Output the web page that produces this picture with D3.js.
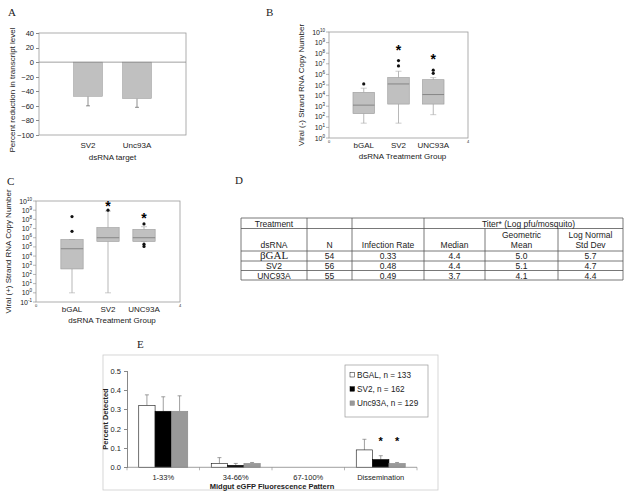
<!DOCTYPE html>
<html lang="en">
<head>
<meta charset="UTF-8">
<title>dsRNA figure</title>
<script src="https://d3js.org/d3.v7.min.js"></script>
<style>
  body, html { margin: 0; background: #fff; }
  svg text { font-family: "Liberation Sans", Arial, sans-serif; fill: #222; }
  .plabel { font-family: "Liberation Serif", "Times New Roman", serif; font-size: 11px; }
  .axis path, .axis line { stroke: #888; shape-rendering: crispEdges; }
  .axis text { font-size: 7.5px; fill: #222; }
</style>
</head>
<body>
<svg id="fig" width="631" height="498"></svg>
<script>
// panel A: percent reduction
var aTargets = ["SV2", "Unc93A"];
var aMeans = [-47, -50];
var aErrLow = [-60, -62];
var aTicks = [40, 20, 0, -20, -40, -60, -80, -100];

// panels B and C: log10 of copy number, box stats per group
var groups = ["bGAL", "SV2", "UNC93A"];
var bLow = [1.4, 1.4, 2.2];
var bQ1 = [2.3, 3.2, 3.2];
var bMed = [3.1, 5.1, 4.1];
var bQ3 = [4.3, 5.7, 5.5];
var bHigh = [4.7, 6.3, 5.7];
var bOut = [[5.1], [6.8, 7.3], [6.1, 6.4]];
var bStar = [null, 8.4, 7.5];
var bExp = [0, 1, 2, 3, 4, 5, 6, 7, 8, 9, 10];

var cLow = [0, 0, 5.6];
var cQ1 = [2.6, 5.6, 5.6];
var cMed = [4.8, 6.0, 6.0];
var cQ3 = [5.8, 7.1, 6.9];
var cHigh = [5.8, 8.9, 7.2];
var cOut = [[6.7, 8.3], [9.0], [7.5, 5.3, 5.05]];
var cStar = [null, 9.5, 8.2];
var cExp = [-1, 0, 1, 2, 3, 4, 5, 6, 7, 8, 9, 10];

// panel D: table
var dsrna = ["\u03B2GAL", "SV2", "UNC93A"];
var nVals = ["54", "56", "55"];
var infRate = ["0.33", "0.48", "0.49"];
var medians = ["4.4", "4.4", "3.7"];
var geoMeans = ["5.0", "5.1", "4.1"];
var logSd = ["5.7", "4.7", "4.4"];

// panel E: midgut eGFP pattern
var eCats = ["1-33%", "34-66%", "67-100%", "Dissemination"];
var eSeries = ["BGAL, n = 133", "SV2, n = 162", "Unc93A, n = 129"];
var eBgal = [0.32, 0.02, 0, 0.09];
var eSv2 = [0.29, 0.01, 0, 0.04];
var eUnc = [0.29, 0.02, 0, 0.02];
var eBgalErr = [0.375, 0.05, 0, 0.145];
var eSv2Err = [0.365, 0.02, 0, 0.06];
var eUncErr = [0.37, 0.025, 0, 0.025];
var eStars = [[], [], [], ["SV2, n = 162", "Unc93A, n = 129"]];
var eTicks = [0, 0.1, 0.2, 0.3, 0.4, 0.5];

var svg = d3.select("#fig");
svg.append("rect").attr("width", 631).attr("height", 498).attr("fill", "#fff");

function plabel(t, x, y) {
    svg.append("text").attr("class", "plabel").attr("x", x).attr("y", y).text(t);
}
plabel("A", 8, 16);
plabel("B", 266, 16);
plabel("C", 7, 185);
plabel("D", 235, 184);
plabel("E", 137, 348);

// asterisk marker drawn as text
function star(g, x, y, size) {
    g.append("text").attr("x", x).attr("y", y + size * 0.42).attr("text-anchor", "middle")
        .style("font-size", size + "px").style("font-weight", "bold").style("fill", "#000").text("*");
}

// ---------- A ----------
(function () {
    var L = 39, R = 186, T = 33, B = 135;
    var g = svg.append("g");
    var y = d3.scaleLinear().domain([-100, 40]).range([B, T]);
    var x = d3.scalePoint().domain(aTargets).range([L, R]).padding(1);

    g.append("rect").attr("x", L).attr("y", T).attr("width", R - L).attr("height", B - T)
        .attr("fill", "none").attr("stroke", "#999").attr("stroke-width", 0.8);

    g.append("g").attr("class", "axis").attr("transform", "translate(" + L + ",0)")
        .call(d3.axisLeft(y).tickValues(aTicks).tickSize(3).tickPadding(2))
        .call(s => s.select(".domain").remove());

    var bw = 29;
    aTargets.forEach(function (t, i) {
        var cx = x(t);
        g.append("line").attr("x1", cx).attr("x2", cx).attr("y1", y(aMeans[i])).attr("y2", y(aErrLow[i]))
            .attr("stroke", "#444").attr("stroke-width", 0.6);
        g.append("line").attr("x1", cx - 2).attr("x2", cx + 2).attr("y1", y(aErrLow[i])).attr("y2", y(aErrLow[i]))
            .attr("stroke", "#444").attr("stroke-width", 0.6);
        g.append("rect").attr("x", cx - bw / 2).attr("y", y(0)).attr("width", bw)
            .attr("height", y(aMeans[i]) - y(0))
            .attr("fill", "#c0c0c0").attr("stroke", "#999").attr("stroke-width", 0.5);
        g.append("text").attr("x", cx).attr("y", 148).attr("text-anchor", "middle")
            .style("font-size", "8px").text(t);
    });
    g.append("line").attr("x1", L).attr("x2", R).attr("y1", y(0)).attr("y2", y(0))
        .attr("stroke", "#888").attr("stroke-width", 0.8);

    g.append("text").attr("x", (L + R) / 2).attr("y", 160).attr("text-anchor", "middle")
        .style("font-size", "8px").text("dsRNA target");
    g.append("text").attr("transform", "translate(15," + ((T + B) / 2 + 6) + ") rotate(-90)")
        .attr("text-anchor", "middle").style("font-size", "8px")
        .text("Percent reduction in transcript level");
})();

// ---------- B and C box plots ----------
function boxPanel(o) {
    var g = svg.append("g");
    var x = d3.scaleLinear().domain([0, 4]).range([o.L, o.R]);
    var y = d3.scaleLog().domain([Math.pow(10, o.exps[0]), Math.pow(10, o.exps[o.exps.length - 1])]).range([o.B, o.T]);
    var ly = v => y(Math.pow(10, v));

    g.append("rect").attr("x", o.L).attr("y", o.T).attr("width", o.R - o.L).attr("height", o.B - o.T)
        .attr("fill", "none").attr("stroke", "#999").attr("stroke-width", 0.8);

    o.exps.forEach(function (e) {
        g.append("line").attr("x1", o.L - 3).attr("x2", o.L).attr("y1", ly(e)).attr("y2", ly(e))
            .attr("stroke", "#888").attr("stroke-width", 0.6);
        var t = g.append("text").attr("x", o.L - 4).attr("y", ly(e) + 2.5).attr("text-anchor", "end")
            .style("font-size", "7px");
        t.append("tspan").text("10");
        t.append("tspan").attr("dy", -3).style("font-size", "4.5px").text(e);
    });

    g.append("text").attr("x", o.L).attr("y", o.B + 5).attr("text-anchor", "middle").style("font-size", "4px").text("0");
    g.append("text").attr("x", o.R).attr("y", o.B + 5).attr("text-anchor", "middle").style("font-size", "4px").text("4");

    var hw = 0.31 * (x(1) - x(0));
    groups.forEach(function (grp, i) {
        var cx = x(i + 1);
        g.append("line").attr("x1", cx).attr("x2", cx).attr("y1", ly(o.low[i])).attr("y2", ly(o.q1[i]))
            .attr("stroke", "#999").attr("stroke-width", 0.7);
        g.append("line").attr("x1", cx).attr("x2", cx).attr("y1", ly(o.q3[i])).attr("y2", ly(o.high[i]))
            .attr("stroke", "#999").attr("stroke-width", 0.7);
        [o.low[i], o.high[i]].forEach(function (v) {
            g.append("line").attr("x1", cx - 3).attr("x2", cx + 3).attr("y1", ly(v)).attr("y2", ly(v))
                .attr("stroke", "#aaa").attr("stroke-width", 0.6);
        });
        g.append("rect").attr("x", cx - hw).attr("y", ly(o.q3[i])).attr("width", 2 * hw)
            .attr("height", ly(o.q1[i]) - ly(o.q3[i]))
            .attr("fill", "#c0c0c0").attr("stroke", "#999").attr("stroke-width", 0.6);
        g.append("line").attr("x1", cx - hw).attr("x2", cx + hw).attr("y1", ly(o.med[i])).attr("y2", ly(o.med[i]))
            .attr("stroke", "#777").attr("stroke-width", 0.8);
        o.out[i].forEach(function (v) {
            g.append("circle").attr("cx", cx).attr("cy", ly(v)).attr("r", 1.6).attr("fill", "#111");
        });
        if (o.star[i] != null) star(g, cx, ly(o.star[i]), 14);
        g.append("text").attr("x", cx).attr("y", o.B + 10).attr("text-anchor", "middle")
            .style("font-size", "8px").text(grp);
    });

    g.append("text").attr("x", (o.L + o.R) / 2 + 4).attr("y", o.B + 21).attr("text-anchor", "middle")
        .style("font-size", "8px").text("dsRNA Treatment Group");
    g.append("text").attr("transform", "translate(" + o.ylx + "," + (o.T + o.B) / 2 + ") rotate(-90)")
        .attr("text-anchor", "middle").style("font-size", "8px").text(o.ytitle);
}

boxPanel({
    L: 329, R: 468, T: 32, B: 138, exps: bExp, ylx: 304,
    low: bLow, q1: bQ1, med: bMed, q3: bQ3, high: bHigh, out: bOut, star: bStar,
    ytitle: "Viral (-) Strand RNA Copy Number"
});
boxPanel({
    L: 36, R: 180, T: 201, B: 302, exps: cExp, ylx: 11,
    low: cLow, q1: cQ1, med: cMed, q3: cQ3, high: cHigh, out: cOut, star: cStar,
    ytitle: "Viral (+) Strand RNA Copy Number"
});

// ---------- D table ----------
(function () {
    var g = svg.append("g");
    var cols = [241, 307, 352, 424, 485, 558, 623];
    var rows = [218, 228.5, 251, 261, 270.5, 280];
    var ln = (x1, y1, x2, y2) => g.append("line").attr("x1", x1).attr("y1", y1).attr("x2", x2).attr("y2", y2)
        .attr("stroke", "#555").attr("stroke-width", 0.8);
    rows.forEach(r => ln(cols[0], r, cols[6], r));
    cols.forEach(function (c, i) {
        if (i === 4 || i === 5) ln(c, rows[1], c, rows[5]);
        else ln(c, rows[0], c, rows[5]);
    });
    var mid = i => (cols[i] + cols[i + 1]) / 2;
    var txt = (s, x, y) => g.append("text").attr("x", x).attr("y", y).attr("text-anchor", "middle")
        .style("font-size", "8.5px").text(s);
    txt("Treatment", mid(0), 226.5);
    txt("Titer* (Log pfu/mosquito)", (cols[3] + cols[6]) / 2 + 5, 226.5);
    txt("dsRNA", mid(0), 247.5);
    txt("N", mid(1), 247.5);
    txt("Infection Rate", mid(2), 247.5);
    txt("Median", mid(3), 247.5);
    txt("Geometric", mid(4), 237.5);
    txt("Mean", mid(4), 247.5);
    txt("Log Normal", mid(5), 237.5);
    txt("Std Dev", mid(5), 247.5);
    var colsData = [dsrna, nVals, infRate, medians, geoMeans, logSd];
    dsrna.forEach(function (d, r) {
        colsData.forEach(function (arr, c) {
            var t = txt(arr[r], mid(c), rows[r + 2] + 8);
            if (r === 0 && c === 0) t.style("font-family", "'Liberation Serif', serif").style("font-size", "11px");
        });
    });
})();

// ---------- E grouped bars ----------
(function () {
    var g = svg.append("g");
    var L = 127, R = 417, T = 370.7, B = 467.3;
    g.append("rect").attr("x", 103).attr("y", 355).attr("width", 335).attr("height", 135)
        .attr("fill", "none").attr("stroke", "#ccc").attr("stroke-width", 0.8);

    var x = d3.scaleBand().domain(eCats).range([L, R]);
    var xs = d3.scaleBand().domain(eSeries).range([-24.5, 24.5]);
    var y = d3.scaleLinear().domain([0, 0.5]).range([B, T]);
    var fills = ["#fff", "#000", "#999"];
    var strokes = ["#111", "#000", "#888"];
    var vals = [eBgal, eSv2, eUnc];
    var errs = [eBgalErr, eSv2Err, eUncErr];

    g.append("g").attr("class", "axis").attr("transform", "translate(" + L + ",0)")
        .call(d3.axisLeft(y).tickValues(eTicks).tickFormat(d3.format(".1f")).tickSize(3).tickPadding(3))
        .call(s => s.selectAll("text").style("font-size", "7.5px"));

    eCats.forEach(function (c, ci) {
        eSeries.forEach(function (s, si) {
            var bx = x(c) + x.bandwidth() / 2 + xs(s);
            var cx = bx + xs.bandwidth() / 2;
            if (errs[si][ci] > vals[si][ci]) {
                g.append("line").attr("x1", cx).attr("x2", cx).attr("y1", y(vals[si][ci])).attr("y2", y(errs[si][ci]))
                    .attr("stroke", "#777").attr("stroke-width", 0.7);
                g.append("line").attr("x1", cx - 2).attr("x2", cx + 2).attr("y1", y(errs[si][ci])).attr("y2", y(errs[si][ci]))
                    .attr("stroke", "#777").attr("stroke-width", 0.7);
            }
            if (vals[si][ci] > 0) {
                g.append("rect").attr("x", bx).attr("y", y(vals[si][ci])).attr("width", xs.bandwidth())
                    .attr("height", B - y(vals[si][ci]))
                    .attr("fill", fills[si]).attr("stroke", strokes[si]).attr("stroke-width", 0.6);
            }
            if (eStars[ci].indexOf(s) >= 0) star(g, cx, y(0.14), 11);
        });
        g.append("text").attr("x", x(c) + x.bandwidth() / 2).attr("y", 479.5).attr("text-anchor", "middle")
            .style("font-size", "7.5px").text(c);
    });
    g.append("line").attr("x1", L).attr("x2", R).attr("y1", B).attr("y2", B).attr("stroke", "#888").attr("stroke-width", 0.8);
    eCats.concat([null]).forEach(function (c, i) {
        var tx = L + i * x.bandwidth();
        g.append("line").attr("x1", tx).attr("x2", tx).attr("y1", B).attr("y2", B + 3).attr("stroke", "#888").attr("stroke-width", 0.6);
    });

    g.append("text").attr("x", (L + R) / 2).attr("y", 488.5).attr("text-anchor", "middle")
        .style("font-size", "7.5px").style("font-weight", "bold").text("Midgut eGFP Fluorescence Pattern");
    g.append("text").attr("transform", "translate(108," + (T + B) / 2 + ") rotate(-90)")
        .attr("text-anchor", "middle").style("font-size", "7.5px").style("font-weight", "bold").text("Percent Detected");

    var lg = g.append("g");
    lg.append("rect").attr("x", 345).attr("y", 365).attr("width", 83).attr("height", 52)
        .attr("fill", "#fff").attr("stroke", "#999").attr("stroke-width", 0.7);
    eSeries.forEach(function (s, i) {
        var ly = 375 + i * 14.2;
        lg.append("rect").attr("x", 350).attr("y", ly - 2.5).attr("width", 4.5).attr("height", 4.5)
            .attr("fill", fills[i]).attr("stroke", strokes[i]).attr("stroke-width", 0.5);
        lg.append("text").attr("x", 357).attr("y", ly + 3).style("font-size", "8.2px").text(s);
    });
})();
</script>
</body>
</html>
